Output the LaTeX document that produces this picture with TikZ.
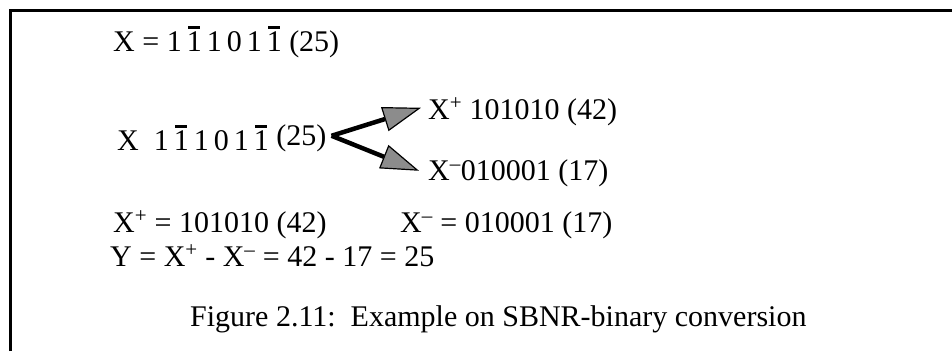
\documentclass[tikz,border=0pt]{standalone}
\usepackage{fontspec}
\setmainfont{Liberation Serif}
\usetikzlibrary{arrows.meta}
% digito negativo (1 con barra)
\newcommand{\uno}{\leavevmode\rlap{\makebox[0.5em]{\rule[0.74em]{0.4em}{0.09em}}}1}
\newcommand{\xmas}{X\textsuperscript{+}}
\newcommand{\xmenos}{X\textsuperscript{\textendash}}
\begin{document}
\begin{tikzpicture}[x=1pt,y=-1pt,
    linea/.style={anchor=base west, inner sep=0pt, font=\fontsize{30}{36}\selectfont},
    flecha/.style={line width=4.5pt, -{Triangle[length=38pt,width=25pt,fill=black!45,line width=1.2pt]}}]
  \useasboundingbox (0,0) rectangle (952,351);
  % Marco
  \draw[line width=3pt] (10,351) -- (10,10) -- (952,10);

  % Numero en SBNR
  \node[linea] (sbnr) at (113,51) {X = 1\,\uno\,1\,0\,1\,\uno\ (25)};

  % Separacion en X+ y X-
  \node[linea] (xsbnr) at (117,150) {X\ \ 1\,\uno\,1\,0\,1\,\uno\ \raisebox{5pt}{(25)}};
  \node[linea] (xmas) at (428,119) {\xmas\ 101010 (42)};
  \node[linea] (xmenos) at (428,180) {\xmenos 010001 (17)};
  \coordinate (rama) at ([xshift=5pt,yshift=2pt]xsbnr.east);
  \draw[flecha] (rama) -- ([xshift=-7pt,yshift=4pt]xmas.west);
  \draw[flecha] (rama) -- ([xshift=-9pt,yshift=2pt]xmenos.west);

  % Valores y resta
  \node[linea] (xmasig) at (113,232) {\xmas\ = 101010 (42)};
  \node[linea] (xmenosig) at (400,232) {\xmenos\ = 010001 (17)};
  \node[linea] (resta) at (110,266) {Y = \xmas\ - \xmenos\ = 42 - 17 = 25};

  % Pie de figura
  \node[linea] (pie) at (190,326) {Figure 2.11:\ \ Example on SBNR-binary conversion};
\end{tikzpicture}
\end{document}
